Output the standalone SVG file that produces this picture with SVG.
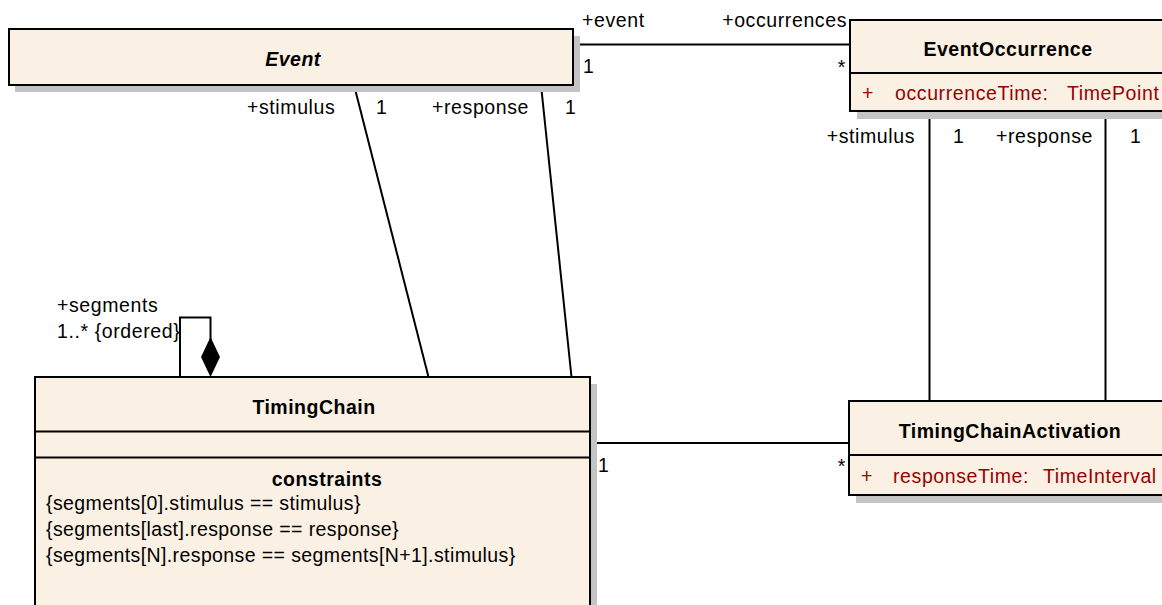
<svg xmlns="http://www.w3.org/2000/svg" width="1162" height="605" viewBox="0 0 1162 605">
<style>
.box{fill:#FAF0E3;stroke:#000;stroke-width:2}
.sh{fill:#C4C4C4}
.sep{stroke:#000;stroke-width:2}
.ln{stroke:#000;stroke-width:2;fill:none}
text{font-family:"Liberation Sans",Arial,sans-serif;font-size:19.5px;fill:#000;letter-spacing:0.6px}
.b{font-weight:bold;letter-spacing:0.5px}
.bi{font-weight:bold;font-style:italic;letter-spacing:0.5px}
.c{letter-spacing:0.4px}
.attr{fill:#990000}
.mid{text-anchor:middle}
.end{text-anchor:end}
</style>
<rect width="1162" height="605" fill="#fff"/>
<g id="connectors">
  <line class="ln" x1="573" y1="44.5" x2="850" y2="44.5"/>
  <line class="ln" x1="354" y1="85" x2="428.5" y2="377"/>
  <line class="ln" x1="541" y1="85" x2="571.5" y2="377"/>
  <line class="ln" x1="929.5" y1="111" x2="929.5" y2="401"/>
  <line class="ln" x1="1105.5" y1="111" x2="1105.5" y2="401"/>
  <line class="ln" x1="590" y1="443" x2="849" y2="443"/>
  <polyline class="ln" points="180,377 180,317.5 210.5,317.5 210.5,340"/>
  <polygon points="210.5,337 220,357 210.5,377 201,357" fill="#000"/>
  <text x="582" y="27">+event</text>
  <text class="end" x="847" y="27">+occurrences</text>
  <text x="583" y="73">1</text>
  <text class="end" x="846" y="74">*</text>
  <text x="247" y="114">+stimulus</text>
  <text x="376" y="114">1</text>
  <text x="432" y="114">+response</text>
  <text x="565" y="114">1</text>
  <text class="end" x="915" y="143">+stimulus</text>
  <text x="953" y="143">1</text>
  <text x="996" y="143">+response</text>
  <text x="1130" y="143">1</text>
  <text x="598" y="472">1</text>
  <text class="end" x="846" y="473">*</text>
  <text x="57" y="312">+segments</text>
  <text x="57" y="338">1..* {ordered}</text>
</g>
<g id="Event">
  <rect class="sh" x="15" y="36" width="565" height="56"/>
  <rect class="box" x="9" y="29" width="564" height="56"/>
  <text class="bi mid" x="293" y="66">Event</text>
</g>
<g id="EventOccurrence">
  <rect class="sh" x="857" y="27" width="320" height="92"/>
  <rect class="box" x="850" y="20" width="320" height="91"/>
  <line class="sep" x1="850" y1="73" x2="1170" y2="73"/>
  <text class="b mid" x="1008" y="56">EventOccurrence</text>
  <text class="attr" x="862" y="100">+</text>
  <text class="attr" x="895" y="100">occurrenceTime:</text>
  <text class="attr" x="1067" y="100">TimePoint</text>
</g>
<g id="TimingChainActivation">
  <rect class="sh" x="856" y="408" width="320" height="95"/>
  <rect class="box" x="849" y="401" width="320" height="94"/>
  <line class="sep" x1="849" y1="455" x2="1169" y2="455"/>
  <text class="b mid" x="1010" y="438">TimingChainActivation</text>
  <text class="attr" x="861" y="483">+</text>
  <text class="attr" x="893" y="483">responseTime:</text>
  <text class="attr" x="1043" y="483">TimeInterval</text>
</g>
<g id="TimingChain">
  <rect class="sh" x="42" y="384" width="555" height="240"/>
  <rect class="box" x="35" y="377" width="555" height="240"/>
  <line class="sep" x1="35" y1="431.5" x2="590" y2="431.5"/>
  <line class="sep" x1="35" y1="457.5" x2="590" y2="457.5"/>
  <text class="b mid" x="314" y="414">TimingChain</text>
  <text class="b mid" x="327" y="486">constraints</text>
  <text class="c" x="46" y="510">{segments[0].stimulus == stimulus}</text>
  <text class="c" x="46" y="536">{segments[last].response == response}</text>
  <text class="c" x="46" y="562">{segments[N].response == segments[N+1].stimulus}</text>
</g>
</svg>
